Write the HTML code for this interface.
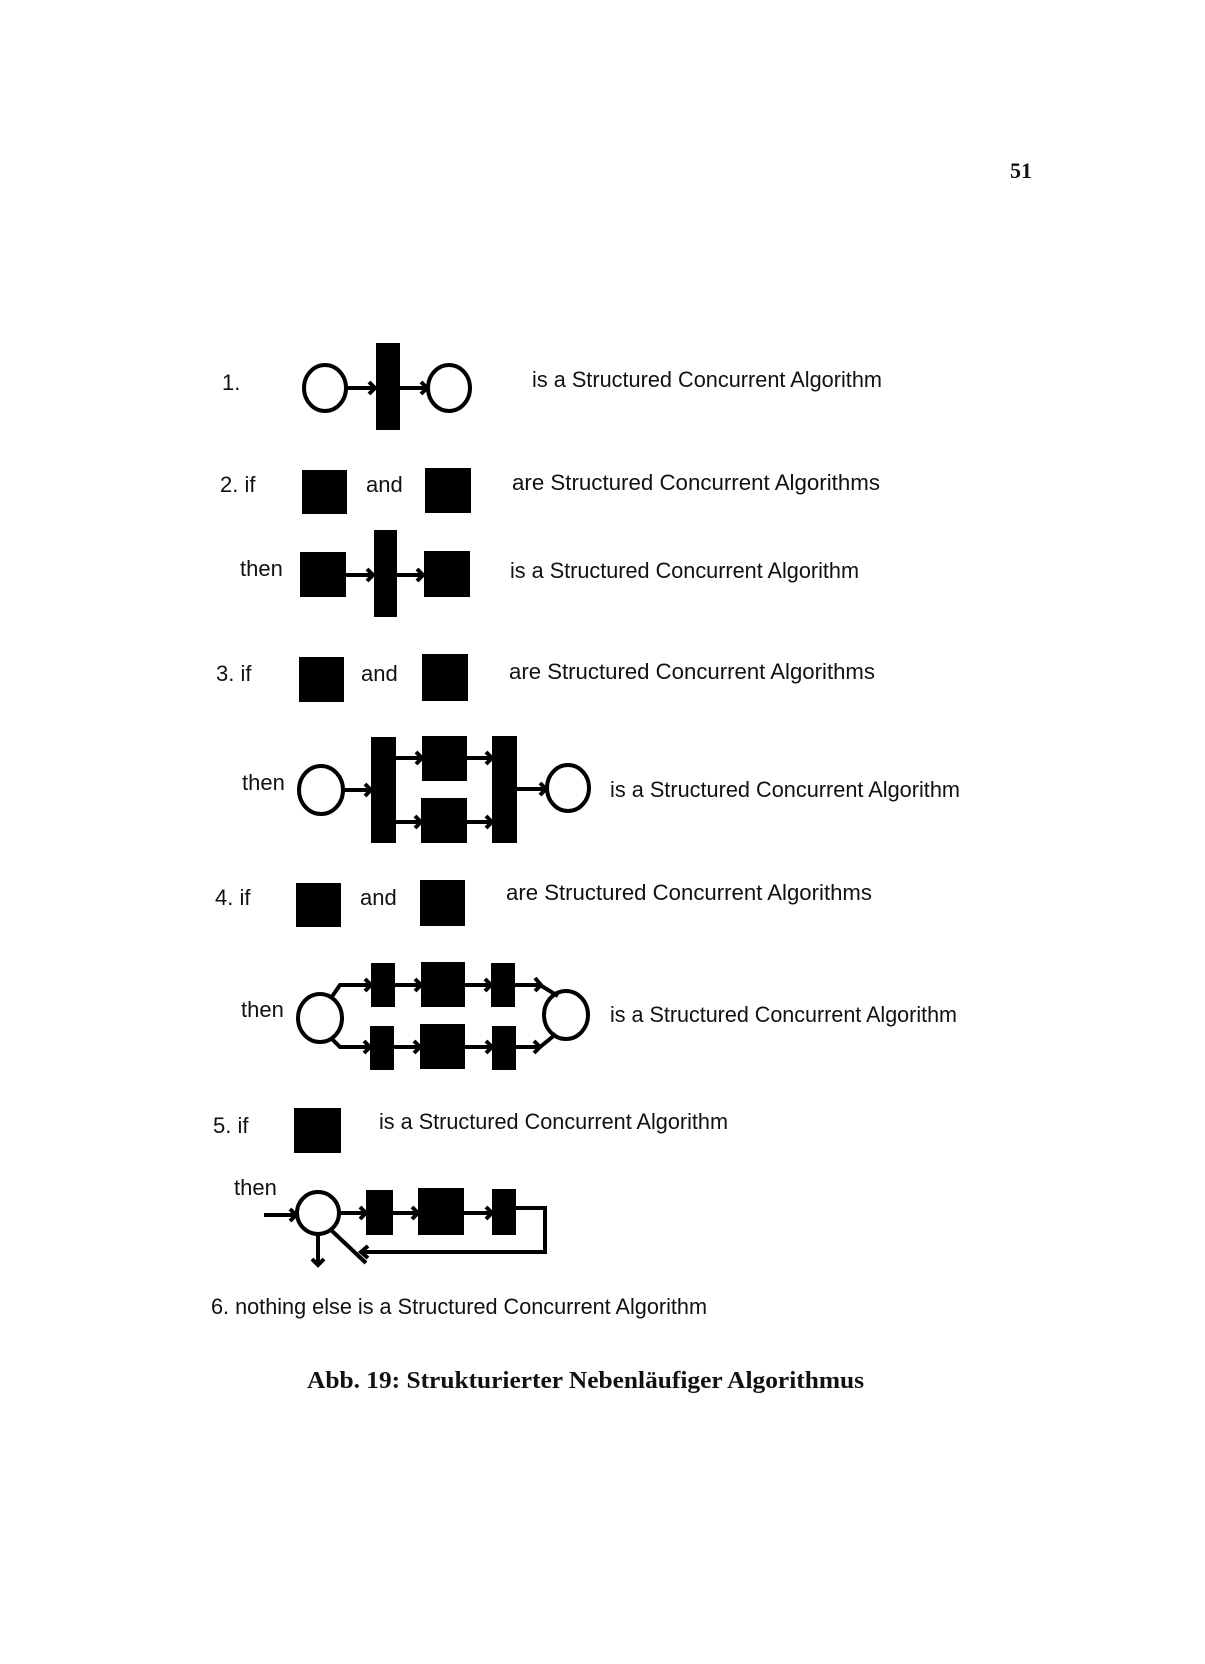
<!DOCTYPE html>
<html><head><meta charset="utf-8"><style>
html,body{margin:0;padding:0;background:#fff;}
svg{display:block;}
.t{font-family:"Liberation Sans",Arial,sans-serif;font-size:22px;fill:#111;}
.s{font-family:"Liberation Serif",serif;fill:#111;}
</style></head><body>
<svg width="1205" height="1664" viewBox="0 0 1205 1664" xmlns="http://www.w3.org/2000/svg">
<text class="s" x="1010" y="178" font-size="22" font-weight="bold">51</text>

<!-- Row 1 -->
<text class="t" x="222" y="390">1.</text>
<g stroke="#000" stroke-width="4" fill="none">
<ellipse cx="325" cy="388" rx="21" ry="23"/>
<ellipse cx="449" cy="388" rx="21" ry="23"/>
<line x1="346" y1="388" x2="376" y2="388"/>
<line x1="400" y1="388" x2="428" y2="388"/>
<polyline points="369,382 375,388 369,394"/>
<polyline points="421,382 427,388 421,394"/>
</g>
<rect x="376" y="343" width="24" height="87" fill="#000"/>
<text class="t" x="532" y="387" textLength="350" lengthAdjust="spacingAndGlyphs">is a Structured Concurrent Algorithm</text>

<!-- Row 2 -->
<text class="t" x="220" y="492">2.  if</text>
<rect x="302" y="470" width="45" height="44" fill="#000"/>
<text class="t" x="366" y="492">and</text>
<rect x="425" y="468" width="46" height="45" fill="#000"/>
<text class="t" x="512" y="490" textLength="368" lengthAdjust="spacingAndGlyphs">are  Structured  Concurrent Algorithms</text>

<text class="t" x="240" y="576">then</text>
<rect x="300" y="552" width="46" height="45" fill="#000"/>
<rect x="374" y="530" width="23" height="87" fill="#000"/>
<rect x="424" y="551" width="46" height="46" fill="#000"/>
<g stroke="#000" stroke-width="4" fill="none">
<line x1="346" y1="575" x2="374" y2="575"/>
<line x1="397" y1="575" x2="424" y2="575"/>
<polyline points="367,569 373,575 367,581"/>
<polyline points="417,569 423,575 417,581"/>
</g>
<text class="t" x="510" y="578" textLength="349" lengthAdjust="spacingAndGlyphs">is a Structured Concurrent Algorithm</text>

<!-- Row 3 -->
<text class="t" x="216" y="681">3.  if</text>
<rect x="299" y="657" width="45" height="45" fill="#000"/>
<text class="t" x="361" y="681">and</text>
<rect x="422" y="654" width="46" height="47" fill="#000"/>
<text class="t" x="509" y="679" textLength="366" lengthAdjust="spacingAndGlyphs">are  Structured  Concurrent Algorithms</text>

<text class="t" x="242" y="790">then</text>
<g stroke="#000" stroke-width="4" fill="none">
<ellipse cx="321" cy="790" rx="22" ry="24"/>
<ellipse cx="568" cy="788" rx="21" ry="23"/>
<line x1="343" y1="790" x2="371" y2="790"/>
<polyline points="365,784 371,790 365,796"/>
<line x1="396" y1="758" x2="422" y2="758"/>
<polyline points="416,752 422,758 416,764"/>
<line x1="396" y1="822" x2="421" y2="822"/>
<polyline points="415,816 421,822 415,828"/>
<line x1="467" y1="758" x2="492" y2="758"/>
<polyline points="486,752 492,758 486,764"/>
<line x1="467" y1="822" x2="492" y2="822"/>
<polyline points="486,816 492,822 486,828"/>
<line x1="517" y1="789" x2="546" y2="789"/>
<polyline points="540,783 546,789 540,795"/>
</g>
<rect x="371" y="737" width="25" height="106" fill="#000"/>
<rect x="422" y="736" width="45" height="45" fill="#000"/>
<rect x="421" y="798" width="46" height="45" fill="#000"/>
<rect x="492" y="736" width="25" height="107" fill="#000"/>
<text class="t" x="610" y="797" textLength="350" lengthAdjust="spacingAndGlyphs">is a Structured Concurrent Algorithm</text>

<!-- Row 4 -->
<text class="t" x="215" y="905">4.  if</text>
<rect x="296" y="883" width="45" height="44" fill="#000"/>
<text class="t" x="360" y="905">and</text>
<rect x="420" y="880" width="45" height="46" fill="#000"/>
<text class="t" x="506" y="900" textLength="366" lengthAdjust="spacingAndGlyphs">are  Structured  Concurrent Algorithms</text>

<text class="t" x="241" y="1017">then</text>
<g stroke="#000" stroke-width="4" fill="none">
<ellipse cx="320" cy="1018" rx="22" ry="24"/>
<ellipse cx="566" cy="1015" rx="22" ry="24"/>
<polyline points="331,998 340,985 371,985"/>
<polyline points="365,979 371,985 365,991"/>
<polyline points="331,1038 340,1047 370,1047"/>
<polyline points="364,1041 370,1047 364,1053"/>
<line x1="395" y1="985" x2="421" y2="985"/>
<polyline points="415,979 421,985 415,991"/>
<line x1="394" y1="1047" x2="420" y2="1047"/>
<polyline points="414,1041 420,1047 414,1053"/>
<line x1="465" y1="985" x2="491" y2="985"/>
<polyline points="485,979 491,985 485,991"/>
<line x1="465" y1="1047" x2="492" y2="1047"/>
<polyline points="486,1041 492,1047 486,1053"/>
<polyline points="515,985 540,985 558,996"/>
<polyline points="535,978 541,985 535,991"/>
<polyline points="516,1047 540,1047 556,1034"/>
<polyline points="534,1041 540,1047 534,1053"/>
</g>
<rect x="371" y="963" width="24" height="44" fill="#000"/>
<rect x="421" y="962" width="44" height="45" fill="#000"/>
<rect x="491" y="963" width="24" height="44" fill="#000"/>
<rect x="370" y="1026" width="24" height="44" fill="#000"/>
<rect x="420" y="1024" width="45" height="45" fill="#000"/>
<rect x="492" y="1026" width="24" height="44" fill="#000"/>
<text class="t" x="610" y="1022" textLength="347" lengthAdjust="spacingAndGlyphs">is a Structured Concurrent Algorithm</text>

<!-- Row 5 -->
<text class="t" x="213" y="1133">5.  if</text>
<rect x="294" y="1108" width="47" height="45" fill="#000"/>
<text class="t" x="379" y="1129" textLength="349" lengthAdjust="spacingAndGlyphs">is a Structured Concurrent Algorithm</text>

<text class="t" x="234" y="1195">then</text>
<g stroke="#000" stroke-width="4" fill="none">
<ellipse cx="318" cy="1213" rx="21" ry="21"/>
<line x1="264" y1="1215" x2="296" y2="1215"/>
<polyline points="290,1209 296,1215 290,1221"/>
<line x1="339" y1="1213" x2="366" y2="1213"/>
<polyline points="360,1207 366,1213 360,1219"/>
<line x1="393" y1="1213" x2="418" y2="1213"/>
<polyline points="412,1207 418,1213 412,1219"/>
<line x1="464" y1="1213" x2="492" y2="1213"/>
<polyline points="486,1207 492,1213 486,1219"/>
<polyline points="516,1208 545,1208 545,1252 361,1252"/>
<polyline points="368,1246 361,1252 368,1258"/>
<line x1="331" y1="1230" x2="366" y2="1263"/>
<line x1="318" y1="1234" x2="318" y2="1265"/>
<polyline points="312,1259 318,1265 324,1259"/>
</g>
<rect x="366" y="1190" width="27" height="45" fill="#000"/>
<rect x="418" y="1188" width="46" height="47" fill="#000"/>
<rect x="492" y="1189" width="24" height="46" fill="#000"/>

<text class="t" x="211" y="1314" textLength="496" lengthAdjust="spacingAndGlyphs">6. nothing else is a Structured Concurrent Algorithm</text>

<text class="s" x="307" y="1388" font-size="24" font-weight="bold" textLength="557" lengthAdjust="spacingAndGlyphs">Abb. 19: Strukturierter Nebenläufiger Algorithmus</text>
</svg>
</body></html>
